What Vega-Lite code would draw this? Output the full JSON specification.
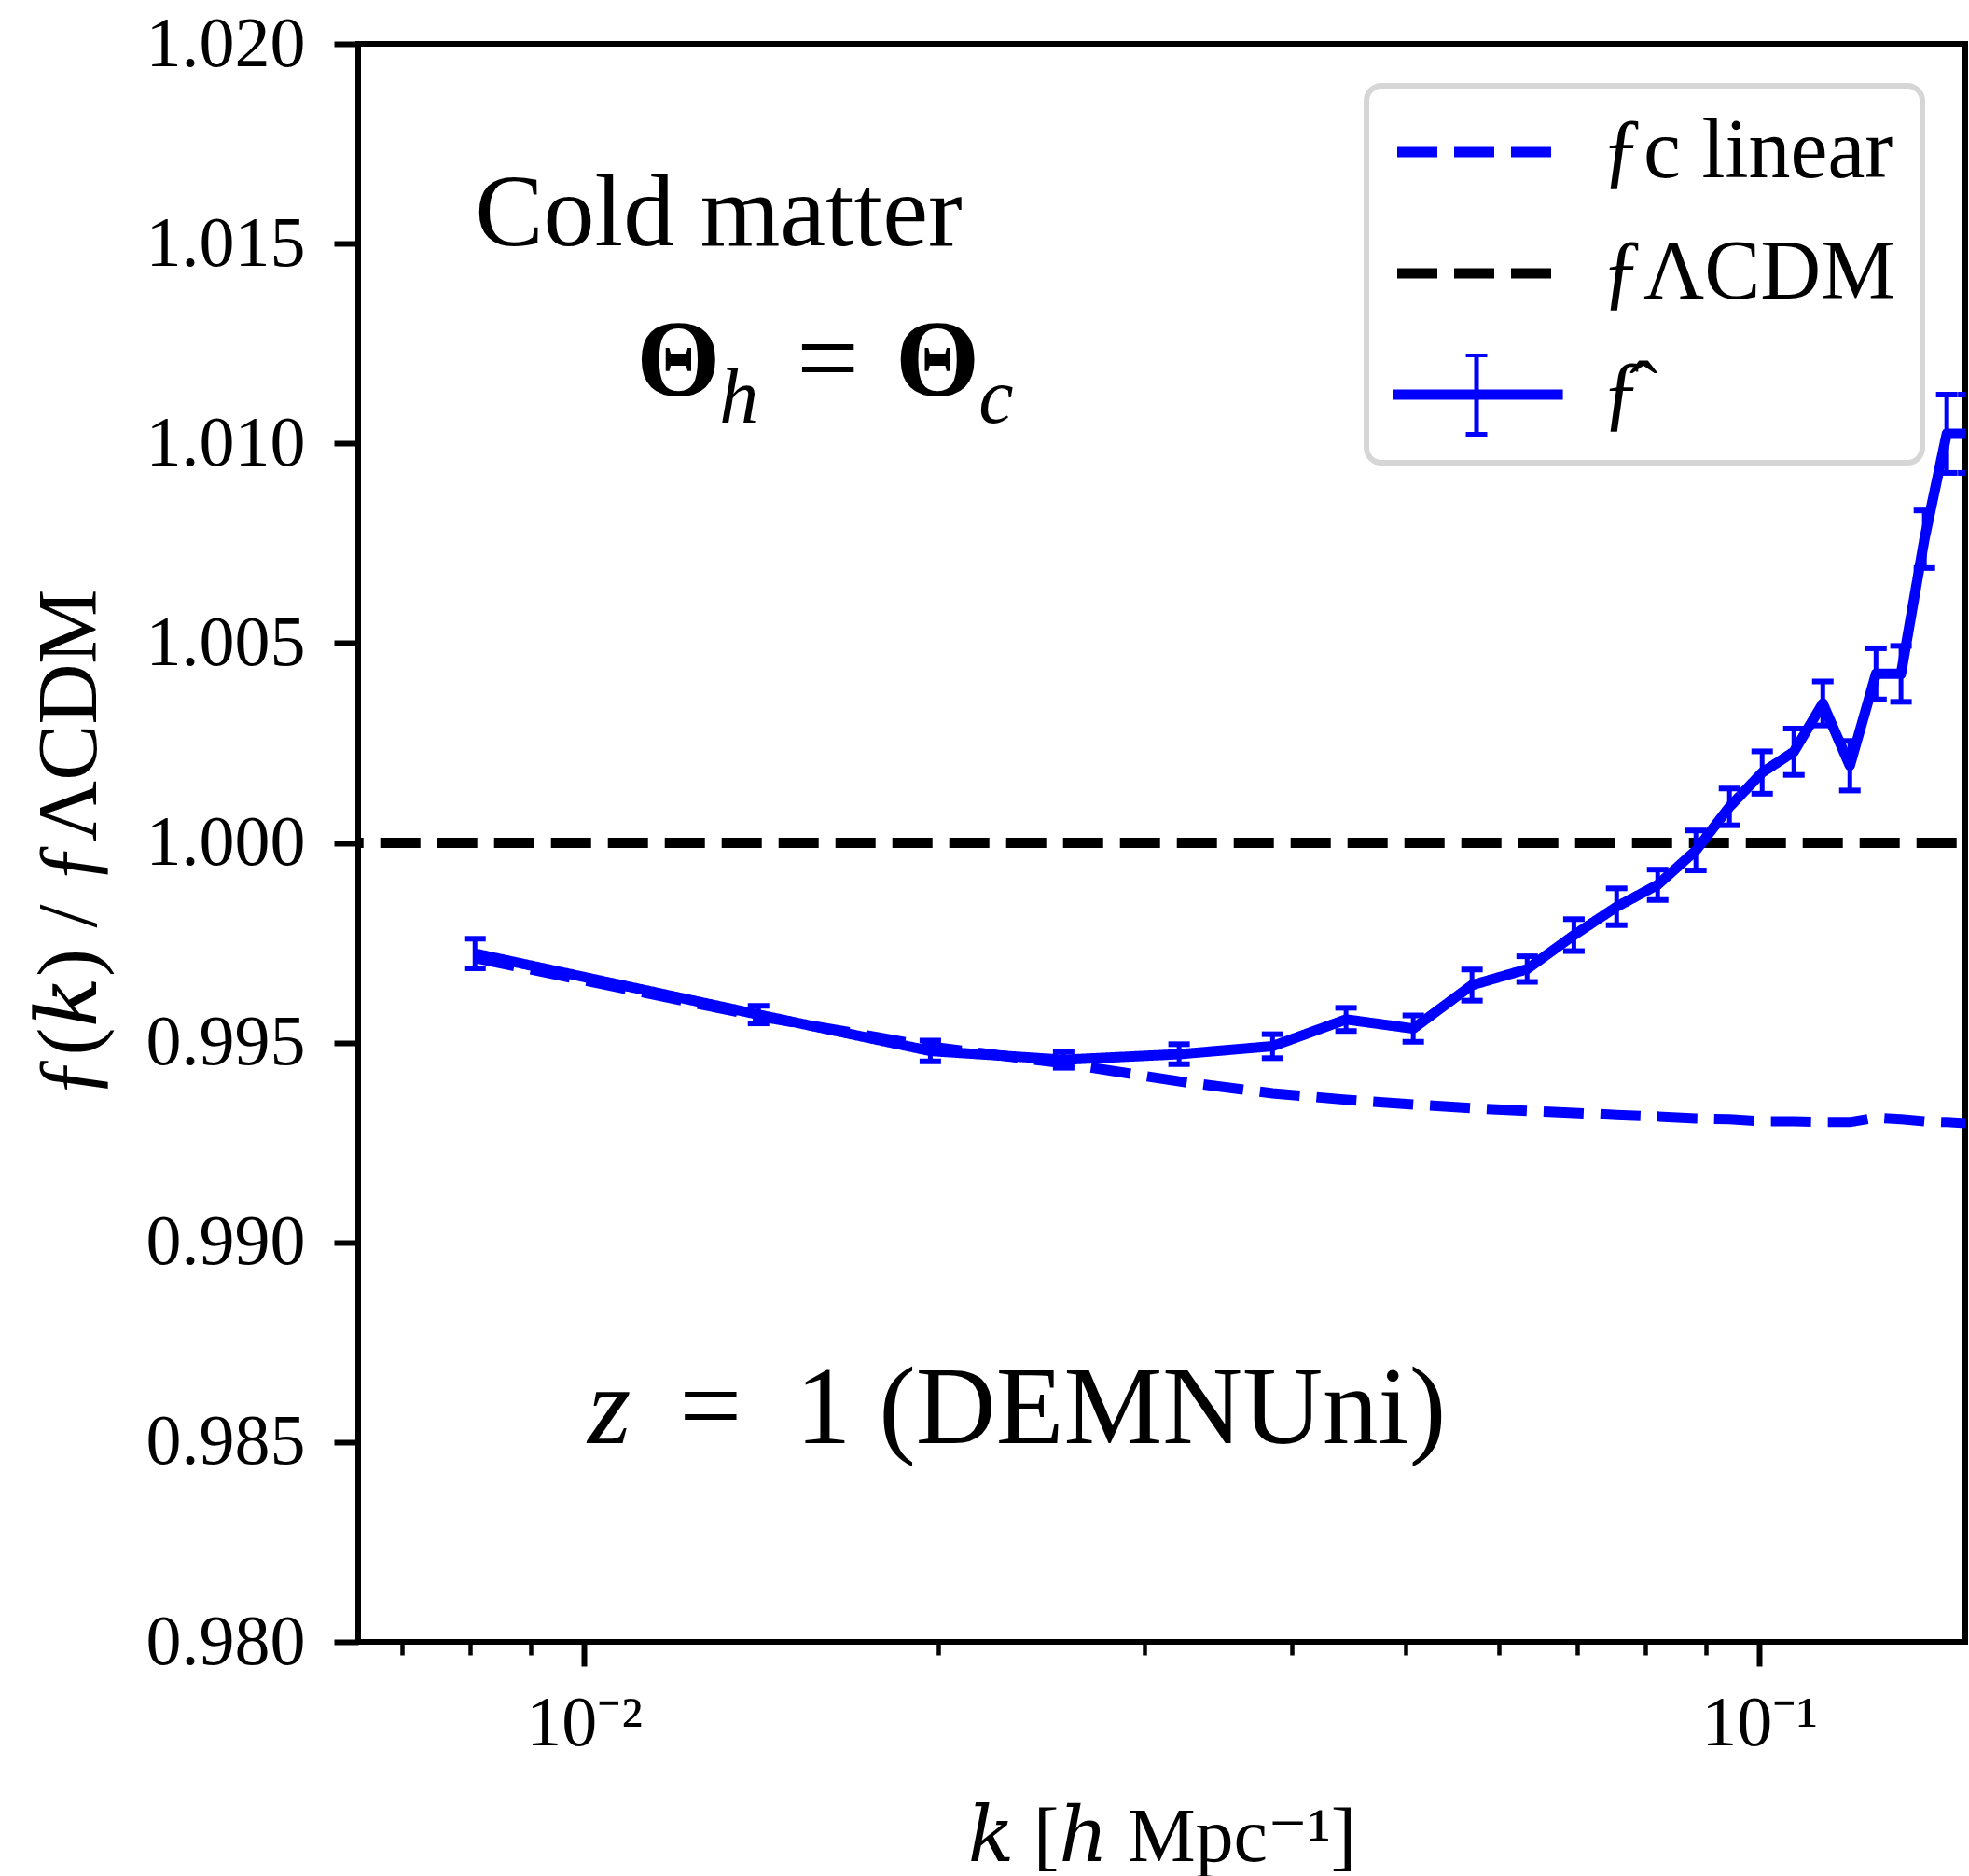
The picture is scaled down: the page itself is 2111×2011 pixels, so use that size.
{
  "$schema": "https://vega.github.io/schema/vega-lite/v6.json",
  "width": 1723,
  "height": 1713,
  "autosize": {"type": "none"},
  "padding": {"left": 384, "top": 47, "right": 4, "bottom": 251},
  "background": "white",
  "config": {
    "view": {"stroke": "black", "strokeWidth": 6},
    "font": "Liberation Serif",
    "axis": {"grid": false, "domain": false, "labelFont": "Liberation Serif", "titleFont": "Liberation Serif, DejaVu Serif", "labelColor": "black", "titleColor": "black", "tickColor": "black", "titleFontWeight": "normal"},
    "legend": {"strokeColor": "#d6d6d6", "strokeWidth": 6, "cornerRadius": 16, "fillColor": "white"}
  },
  "datasets": {
    "ref": [
      {"k": 0.006, "f": 1.0, "series": "ƒΛCDM"},
      {"k": 0.16, "f": 1.0, "series": "ƒΛCDM"}
    ],
    "lin": [
      {"k": 0.008075, "f": 0.99712, "series": "ƒc linear"},
      {"k": 0.014074, "f": 0.99566, "series": "ƒc linear"},
      {"k": 0.019705, "f": 0.99490, "series": "ƒc linear"},
      {"k": 0.025588, "f": 0.99448, "series": "ƒc linear"},
      {"k": 0.032082, "f": 0.99403, "series": "ƒc linear"},
      {"k": 0.038529, "f": 0.99373, "series": "ƒc linear"},
      {"k": 0.044496, "f": 0.99357, "series": "ƒc linear"},
      {"k": 0.050758, "f": 0.99345, "series": "ƒc linear"},
      {"k": 0.056949, "f": 0.99336, "series": "ƒc linear"},
      {"k": 0.063445, "f": 0.99329, "series": "ƒc linear"},
      {"k": 0.069536, "f": 0.99324, "series": "ƒc linear"},
      {"k": 0.075609, "f": 0.99319, "series": "ƒc linear"},
      {"k": 0.08194, "f": 0.99315, "series": "ƒc linear"},
      {"k": 0.088308, "f": 0.99310, "series": "ƒc linear"},
      {"k": 0.094319, "f": 0.99308, "series": "ƒc linear"},
      {"k": 0.10055, "f": 0.99303, "series": "ƒc linear"},
      {"k": 0.107, "f": 0.99303, "series": "ƒc linear"},
      {"k": 0.11324, "f": 0.99301, "series": "ƒc linear"},
      {"k": 0.1194, "f": 0.99301, "series": "ƒc linear"},
      {"k": 0.12568, "f": 0.99312, "series": "ƒc linear"},
      {"k": 0.13199, "f": 0.99308, "series": "ƒc linear"},
      {"k": 0.13818, "f": 0.99303, "series": "ƒc linear"},
      {"k": 0.14437, "f": 0.99301, "series": "ƒc linear"},
      {"k": 0.1507, "f": 0.99298, "series": "ƒc linear"}
    ],
    "hat": [
      {"k": 0.008075, "f": 0.99723, "err": 0.00037, "series": "ƒ̂"},
      {"k": 0.014074, "f": 0.99570, "err": 0.00022, "series": "ƒ̂"},
      {"k": 0.019705, "f": 0.99479, "err": 0.00026, "series": "ƒ̂"},
      {"k": 0.025588, "f": 0.99457, "err": 0.00020, "series": "ƒ̂"},
      {"k": 0.032082, "f": 0.99471, "err": 0.00025, "series": "ƒ̂"},
      {"k": 0.038529, "f": 0.99491, "err": 0.00030, "series": "ƒ̂"},
      {"k": 0.044496, "f": 0.99558, "err": 0.00029, "series": "ƒ̂"},
      {"k": 0.050758, "f": 0.99535, "err": 0.00033, "series": "ƒ̂"},
      {"k": 0.056949, "f": 0.99644, "err": 0.00039, "series": "ƒ̂"},
      {"k": 0.063445, "f": 0.99684, "err": 0.00032, "series": "ƒ̂"},
      {"k": 0.069536, "f": 0.99769, "err": 0.00040, "series": "ƒ̂"},
      {"k": 0.075609, "f": 0.99840, "err": 0.00046, "series": "ƒ̂"},
      {"k": 0.08194, "f": 0.99895, "err": 0.00038, "series": "ƒ̂"},
      {"k": 0.088308, "f": 0.99981, "err": 0.00050, "series": "ƒ̂"},
      {"k": 0.094319, "f": 1.00090, "err": 0.00046, "series": "ƒ̂"},
      {"k": 0.10055, "f": 1.00176, "err": 0.00053, "series": "ƒ̂"},
      {"k": 0.107, "f": 1.00228, "err": 0.00058, "series": "ƒ̂"},
      {"k": 0.11324, "f": 1.00349, "err": 0.00055, "series": "ƒ̂"},
      {"k": 0.1194, "f": 1.00193, "err": 0.00062, "series": "ƒ̂"},
      {"k": 0.12568, "f": 1.00423, "err": 0.00064, "series": "ƒ̂"},
      {"k": 0.13199, "f": 1.00423, "err": 0.00070, "series": "ƒ̂"},
      {"k": 0.13818, "f": 1.00760, "err": 0.00072, "series": "ƒ̂"},
      {"k": 0.14437, "f": 1.01024, "err": 0.00098, "series": "ƒ̂"},
      {"k": 0.1507, "f": 1.01024, "err": 0.00098, "series": "ƒ̂"}
    ],
    "cold": [{"k": 0.008075, "f": 1.01496, "label": "Cold matter"}],
    "big": [
      {"k": 0.012027, "f": 1.0112, "label": "Θ"},
      {"k": 0.019985, "f": 1.0112, "label": "Θ"}
    ],
    "sub": [
      {"k": 0.013542, "f": 1.01052, "label": "h"},
      {"k": 0.022411, "f": 1.01052, "label": "c"}
    ],
    "plain": [
      {"k": 0.016124, "f": 1.0112, "label": "="},
      {"k": 0.012812, "f": 0.98497, "label": "="},
      {"k": 0.028618, "f": 0.98497, "label": "1 (DEMNUni)"}
    ],
    "ital": [{"k": 0.010506, "f": 0.98497, "label": "z"}]
  },
  "encoding": {
    "x": {
      "field": "k",
      "type": "quantitative",
      "scale": {"type": "log", "domain": [0.006423, 0.1497]},
      "axis": {
        "title": "𝑘 [ℎ Mpc⁻¹]",
        "values": [0.007, 0.008, 0.009, 0.01, 0.02, 0.03, 0.04, 0.05, 0.06, 0.07, 0.08, 0.09, 0.1],
        "labelExpr": "datum.value == 0.01 ? '10⁻²' : (datum.value == 0.1 ? '10⁻¹' : '')",
        "tickSize": {"condition": {"test": "datum.value == 0.01 || datum.value == 0.1", "value": 26}, "value": 14},
        "tickWidth": {"condition": {"test": "datum.value == 0.01 || datum.value == 0.1", "value": 6}, "value": 4.5},
        "labelFontSize": 76,
        "labelPadding": 24,
        "labelOverlap": false,
        "labelFlush": false,
        "titleFontSize": 82,
        "titlePadding": 44
      }
    },
    "y": {
      "field": "f",
      "type": "quantitative",
      "scale": {"domain": [0.98, 1.02]},
      "axis": {
        "title": "ƒ(𝑘) / ƒΛCDM",
        "values": [0.98, 0.985, 0.99, 0.995, 1.0, 1.005, 1.01, 1.015, 1.02],
        "format": ".3f",
        "tickSize": 26,
        "tickWidth": 6,
        "labelFontSize": 76,
        "labelPadding": 31,
        "labelOverlap": false,
        "labelFlush": false,
        "titleFontSize": 90,
        "titlePadding": 63
      }
    }
  },
  "layer": [
    {
      "data": {"name": "ref"},
      "mark": {"type": "line", "clip": true, "strokeWidth": 11, "strokeCap": "butt"},
      "encoding": {
        "color": {
          "field": "series",
          "type": "nominal",
          "scale": {"domain": ["ƒc linear", "ƒΛCDM", "ƒ̂"], "range": ["#0000ff", "#000000", "#0000ff"]},
          "legend": {
            "title": null,
            "orient": "none",
            "legendX": 1081,
            "legendY": 45,
            "direction": "vertical",
            "symbolType": "stroke",
            "symbolSize": 28900,
            "symbolStrokeWidth": 11,
            "symbolOffset": 45,
            "labelFont": "Liberation Serif",
            "labelFontSize": 90,
            "labelColor": "black",
            "labelOffset": 89,
            "labelLimit": 0,
            "padding": 28,
            "rowPadding": 40,
            "clipHeight": 86,
            "encode": {
              "symbols": {
                "update": {
                  "shape": {"signal": "datum.index === 2 ? 'M-1.06,-0.035L1.06,-0.035L1.06,0.035L-1.06,0.035ZM0,-0.5L0,0.5M-0.135,-0.5L0.135,-0.5M-0.135,0.5L0.135,0.5' : 'stroke'"},
                  "strokeWidth": {"signal": "datum.index === 2 ? 5 : 11"},
                  "fill": {"signal": "datum.index === 2 ? '#0000ff' : 'transparent'"}
                }
              }
            }
          }
        },
        "strokeDash": {
          "field": "series",
          "type": "nominal",
          "scale": {"domain": ["ƒc linear", "ƒΛCDM", "ƒ̂"], "range": [[43, 18], [43, 18], [1, 0]]}
        }
      }
    },
    {
      "data": {"name": "lin"},
      "mark": {"type": "line", "clip": true, "strokeWidth": 11, "strokeCap": "butt"},
      "encoding": {
        "color": {"field": "series", "type": "nominal"},
        "strokeDash": {"field": "series", "type": "nominal"}
      }
    },
    {
      "data": {"name": "hat"},
      "mark": {"type": "line", "clip": true, "strokeWidth": 11, "strokeJoin": "round"},
      "encoding": {
        "color": {"field": "series", "type": "nominal"},
        "strokeDash": {"field": "series", "type": "nominal"}
      }
    },
    {
      "data": {"name": "hat"},
      "mark": {"type": "errorbar", "clip": true, "color": "#0000ff", "opacity": 1, "thickness": 5, "rule": {"opacity": 1}, "ticks": {"size": 23, "thickness": 6, "color": "#0000ff", "opacity": 1}},
      "encoding": {"yError": {"field": "err"}}
    },
    {
      "data": {"name": "cold"},
      "mark": {"type": "text", "align": "left", "baseline": "alphabetic", "font": "Liberation Serif", "fontSize": 110, "color": "black"},
      "encoding": {"text": {"field": "label"}}
    },
    {
      "data": {"name": "big"},
      "mark": {"type": "text", "align": "center", "baseline": "alphabetic", "font": "Liberation Serif", "fontWeight": "bold", "fontSize": 116, "color": "black"},
      "encoding": {"text": {"field": "label"}}
    },
    {
      "data": {"name": "sub"},
      "mark": {"type": "text", "align": "center", "baseline": "alphabetic", "font": "Liberation Serif", "fontStyle": "italic", "fontSize": 84, "color": "black"},
      "encoding": {"text": {"field": "label"}}
    },
    {
      "data": {"name": "plain"},
      "mark": {"type": "text", "align": "center", "baseline": "alphabetic", "font": "Liberation Serif", "fontSize": 119, "color": "black"},
      "encoding": {"text": {"field": "label"}}
    },
    {
      "data": {"name": "ital"},
      "mark": {"type": "text", "align": "center", "baseline": "alphabetic", "font": "Liberation Serif", "fontStyle": "italic", "fontSize": 119, "color": "black"},
      "encoding": {"text": {"field": "label"}}
    }
  ]
}
